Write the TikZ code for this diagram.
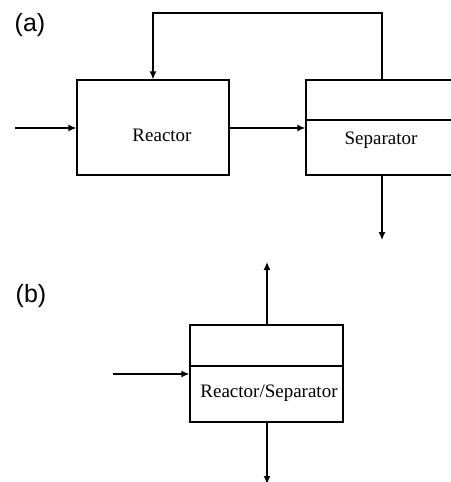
\documentclass[tikz,border=0pt]{standalone}
\usepackage{fontspec}
\setmainfont{Liberation Serif}
\newfontfamily\labfont{Liberation Sans}
\usetikzlibrary{arrows.meta,calc}
\begin{document}
\begin{tikzpicture}[x=1pt,y=-1pt,
  line width=1.3pt,
  unit/.style={draw,rectangle,inner sep=0pt,line width=1.3pt},
  txt/.style={inner sep=0pt,font=\fontsize{19}{22}\selectfont},
  lab/.style={inner sep=0pt,font=\labfont\fontsize{25}{28}\selectfont},
  flow/.style={-{Latex[length=8pt,width=7pt]},line width=1.3pt}]
\useasboundingbox (0,0) rectangle (450,482);
% (a)
\node[lab] (la) at (30,25) {(a)};
\node[unit,minimum width=152pt,minimum height=95pt] (reactor) at (153,127.5) {};
\node[unit,minimum width=152pt,minimum height=95pt] (sep) at (382,127.5) {};
\draw (sep.west |- 0,120) -- (sep.east |- 0,120);
\node[txt] (treactor) at (162,135) {Reactor};
\node[txt] (tsep) at (381,140) {Separator};
\coordinate (ina) at (15,128);
\coordinate (rtop) at (382,13);
\coordinate (outa) at (382,240);
\draw[flow] (ina) -- (ina -| reactor.west);
\draw[flow] (reactor.east |- 0,128) -- (sep.west |- 0,128);
\draw[flow] (sep.north -| rtop) -- (rtop) -- (rtop -| reactor.north) -- (reactor.north);
\draw[flow] (sep.south -| outa) -- (outa);
% (b)
\node[lab] (lb) at (31,296) {(b)};
\node[unit,minimum width=153pt,minimum height=97pt] (rs) at (266.5,373.5) {};
\draw (rs.west |- 0,366) -- (rs.east |- 0,366);
\node[txt] (trs) at (269,393) {Reactor/Separator};
\coordinate (inb) at (113,374);
\coordinate (topb) at (267,262);
\coordinate (botb) at (267,484);
\draw[flow] (inb) -- (inb -| rs.west);
\draw[flow] (rs.north -| topb) -- (topb);
\draw[flow] (rs.south -| botb) -- (botb);
\end{tikzpicture}
\end{document}
